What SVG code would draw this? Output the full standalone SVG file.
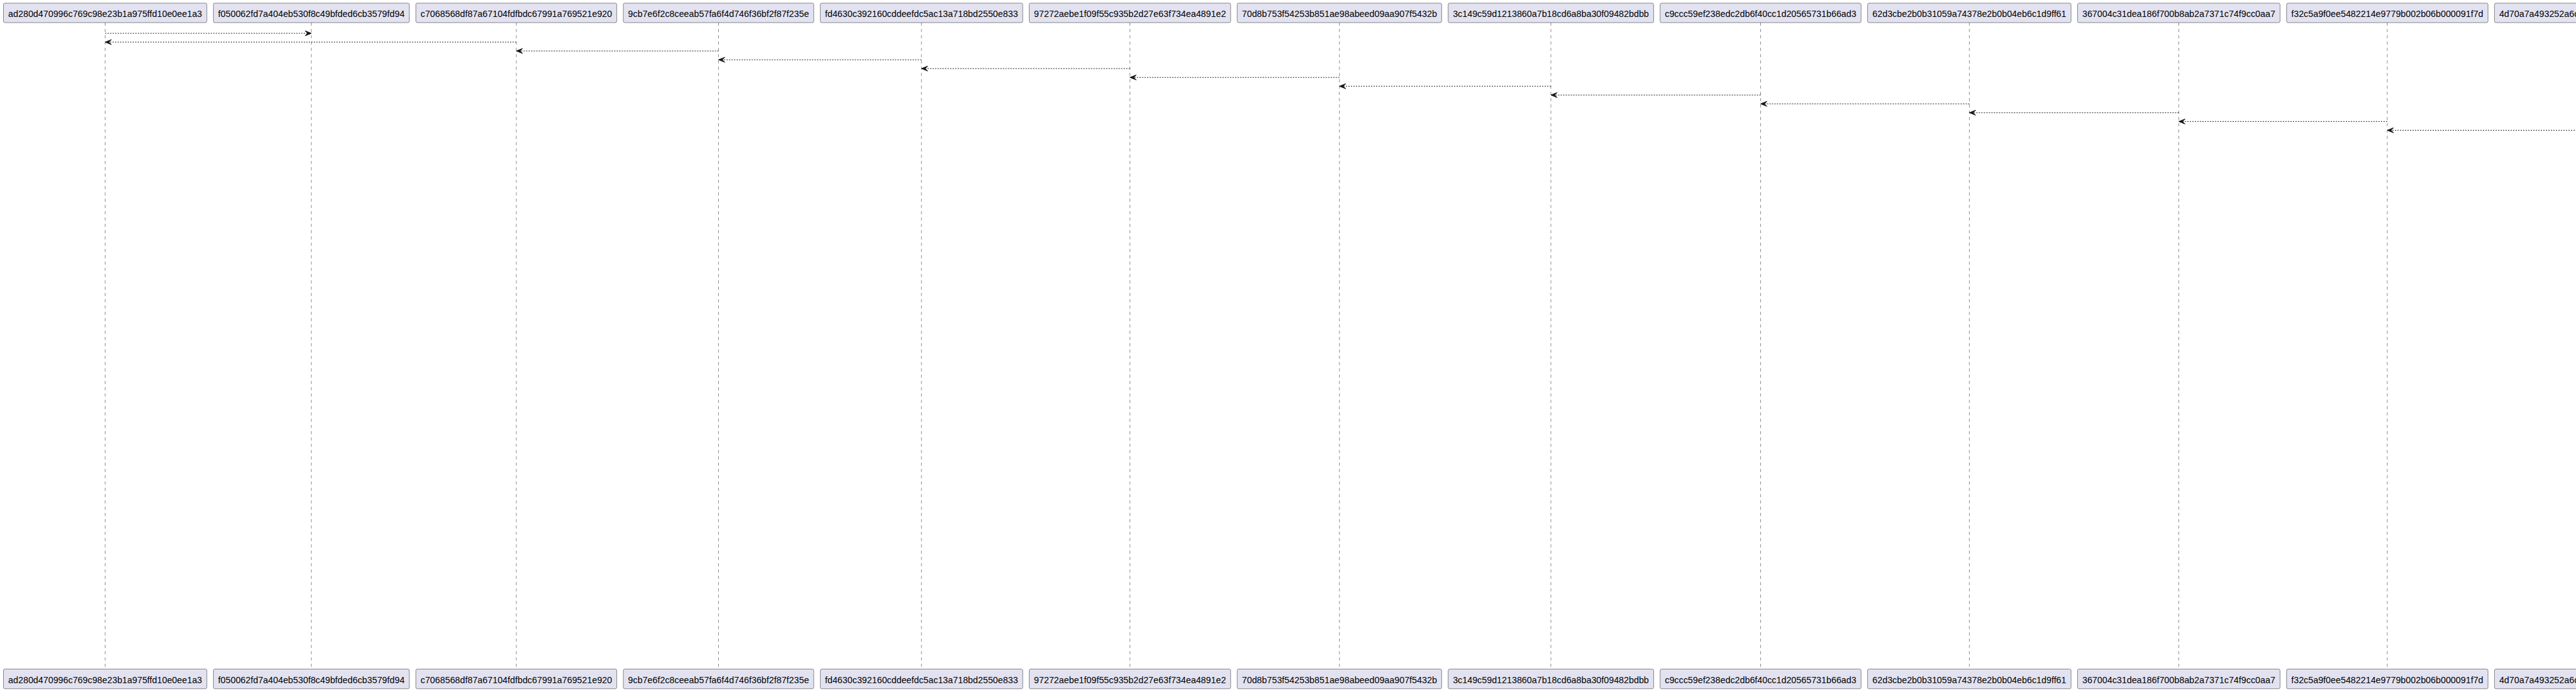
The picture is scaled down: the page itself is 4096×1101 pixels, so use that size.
<svg xmlns="http://www.w3.org/2000/svg" width="4096" height="1101" viewBox="0 0 4096 1101">
<style>
.box{fill:#E2E2F0;stroke:#181818;stroke-width:0.5}
.life{stroke:#181818;stroke-width:0.5;stroke-dasharray:5,5;fill:none}
.lbl{font-family:"Liberation Sans",Arial,sans-serif;font-size:14.3px;fill:#000000;text-anchor:middle}
.lbls{font-family:"Liberation Sans",Arial,sans-serif;font-size:14.3px;fill:#000000;text-anchor:start}
.msg{stroke:#181818;stroke-width:1;stroke-dasharray:2,2;fill:none}
</style>
<defs>
<marker id="ah" viewBox="0 0 10 8" refX="10" refY="4" markerWidth="10" markerHeight="8" markerUnits="userSpaceOnUse" orient="auto" overflow="visible">
<path d="M0,0 L10,4 L0,8 L4,4 Z" fill="#181818" stroke="#181818" stroke-width="1" stroke-dasharray="none"/>
</marker>
</defs>
<rect x="0" y="0" width="4096" height="1101" fill="#FFFFFF"/>

<g id="p0">
<line class="life" x1="167.2" y1="36" x2="167.2" y2="1064.5"/>
<rect class="box" x="5.5" y="5" width="323.4" height="31" rx="2.5"/>
<text class="lbl" x="167.2" y="27.2">ad280d470996c769c98e23b1a975ffd10e0ee1a3</text>
<rect class="box" x="5.5" y="1064.5" width="323.4" height="31.3" rx="2.5"/>
<text class="lbl" x="167.2" y="1086.5">ad280d470996c769c98e23b1a975ffd10e0ee1a3</text>
</g>
<g id="p1">
<line class="life" x1="495.1" y1="36" x2="495.1" y2="1064.5"/>
<rect class="box" x="339.3" y="5" width="311.6" height="31" rx="2.5"/>
<text class="lbl" x="495.1" y="27.2">f050062fd7a404eb530f8c49bfded6cb3579fd94</text>
<rect class="box" x="339.3" y="1064.5" width="311.6" height="31.3" rx="2.5"/>
<text class="lbl" x="495.1" y="1086.5">f050062fd7a404eb530f8c49bfded6cb3579fd94</text>
</g>
<g id="p2">
<line class="life" x1="821" y1="36" x2="821" y2="1064.5"/>
<rect class="box" x="661.2" y="5" width="319.5" height="31" rx="2.5"/>
<text class="lbl" x="821" y="27.2">c7068568df87a67104fdfbdc67991a769521e920</text>
<rect class="box" x="661.2" y="1064.5" width="319.5" height="31.3" rx="2.5"/>
<text class="lbl" x="821" y="1086.5">c7068568df87a67104fdfbdc67991a769521e920</text>
</g>
<g id="p3">
<line class="life" x1="1142.5" y1="36" x2="1142.5" y2="1064.5"/>
<rect class="box" x="991.1" y="5" width="302.8" height="31" rx="2.5"/>
<text class="lbl" x="1142.5" y="27.2">9cb7e6f2c8ceeab57fa6f4d746f36bf2f87f235e</text>
<rect class="box" x="991.1" y="1064.5" width="302.8" height="31.3" rx="2.5"/>
<text class="lbl" x="1142.5" y="1086.5">9cb7e6f2c8ceeab57fa6f4d746f36bf2f87f235e</text>
</g>
<g id="p4">
<line class="life" x1="1465.2" y1="36" x2="1465.2" y2="1064.5"/>
<rect class="box" x="1304.3" y="5" width="321.9" height="31" rx="2.5"/>
<text class="lbl" x="1465.2" y="27.2">fd4630c392160cddeefdc5ac13a718bd2550e833</text>
<rect class="box" x="1304.3" y="1064.5" width="321.9" height="31.3" rx="2.5"/>
<text class="lbl" x="1465.2" y="1086.5">fd4630c392160cddeefdc5ac13a718bd2550e833</text>
</g>
<g id="p5">
<line class="life" x1="1796.7" y1="36" x2="1796.7" y2="1064.5"/>
<rect class="box" x="1636.5" y="5" width="320.3" height="31" rx="2.5"/>
<text class="lbl" x="1796.7" y="27.2">97272aebe1f09f55c935b2d27e63f734ea4891e2</text>
<rect class="box" x="1636.5" y="1064.5" width="320.3" height="31.3" rx="2.5"/>
<text class="lbl" x="1796.7" y="1086.5">97272aebe1f09f55c935b2d27e63f734ea4891e2</text>
</g>
<g id="p6">
<line class="life" x1="2129.8" y1="36" x2="2129.8" y2="1064.5"/>
<rect class="box" x="1967.2" y="5" width="325.1" height="31" rx="2.5"/>
<text class="lbl" x="2129.8" y="27.2">70d8b753f54253b851ae98abeed09aa907f5432b</text>
<rect class="box" x="1967.2" y="1064.5" width="325.1" height="31.3" rx="2.5"/>
<text class="lbl" x="2129.8" y="1086.5">70d8b753f54253b851ae98abeed09aa907f5432b</text>
</g>
<g id="p7">
<line class="life" x1="2466" y1="36" x2="2466" y2="1064.5"/>
<rect class="box" x="2302.7" y="5" width="326.7" height="31" rx="2.5"/>
<text class="lbl" x="2466" y="27.2">3c149c59d1213860a7b18cd6a8ba30f09482bdbb</text>
<rect class="box" x="2302.7" y="1064.5" width="326.7" height="31.3" rx="2.5"/>
<text class="lbl" x="2466" y="1086.5">3c149c59d1213860a7b18cd6a8ba30f09482bdbb</text>
</g>
<g id="p8">
<line class="life" x1="2799.5" y1="36" x2="2799.5" y2="1064.5"/>
<rect class="box" x="2639.7" y="5" width="319.5" height="31" rx="2.5"/>
<text class="lbl" x="2799.5" y="27.2">c9ccc59ef238edc2db6f40cc1d20565731b66ad3</text>
<rect class="box" x="2639.7" y="1064.5" width="319.5" height="31.3" rx="2.5"/>
<text class="lbl" x="2799.5" y="1086.5">c9ccc59ef238edc2db6f40cc1d20565731b66ad3</text>
</g>
<g id="p9">
<line class="life" x1="3131.4" y1="36" x2="3131.4" y2="1064.5"/>
<rect class="box" x="2969.6" y="5" width="323.5" height="31" rx="2.5"/>
<text class="lbl" x="3131.4" y="27.2">62d3cbe2b0b31059a74378e2b0b04eb6c1d9ff61</text>
<rect class="box" x="2969.6" y="1064.5" width="323.5" height="31.3" rx="2.5"/>
<text class="lbl" x="3131.4" y="1086.5">62d3cbe2b0b31059a74378e2b0b04eb6c1d9ff61</text>
</g>
<g id="p10">
<line class="life" x1="3464.4" y1="36" x2="3464.4" y2="1064.5"/>
<rect class="box" x="3303.5" y="5" width="321.9" height="31" rx="2.5"/>
<text class="lbl" x="3464.4" y="27.2">367004c31dea186f700b8ab2a7371c74f9cc0aa7</text>
<rect class="box" x="3303.5" y="1064.5" width="321.9" height="31.3" rx="2.5"/>
<text class="lbl" x="3464.4" y="1086.5">367004c31dea186f700b8ab2a7371c74f9cc0aa7</text>
</g>
<g id="p11">
<line class="life" x1="3795.9" y1="36" x2="3795.9" y2="1064.5"/>
<rect class="box" x="3635.8" y="5" width="320.3" height="31" rx="2.5"/>
<text class="lbl" x="3795.9" y="27.2">f32c5a9f0ee5482214e9779b002b06b000091f7d</text>
<rect class="box" x="3635.8" y="1064.5" width="320.3" height="31.3" rx="2.5"/>
<text class="lbl" x="3795.9" y="1086.5">f32c5a9f0ee5482214e9779b002b06b000091f7d</text>
</g>
<g id="p12">
<rect class="box" x="3966.4" y="5" width="330" height="31" rx="2.5"/>
<text class="lbls" x="3973.9" y="27.2">4d70a7a493252a6c</text>
<rect class="box" x="3966.4" y="1064.5" width="330" height="31.3" rx="2.5"/>
<text class="lbls" x="3973.9" y="1086.5">4d70a7a493252a6c</text>
</g>

<g id="connectors">
<line class="msg" x1="167.2" y1="53" x2="495.1" y2="53" marker-end="url(#ah)"/>
<line class="msg" x1="821" y1="67" x2="167.2" y2="67" marker-end="url(#ah)"/>
<line class="msg" x1="1142.5" y1="81.1" x2="821" y2="81.1" marker-end="url(#ah)"/>
<line class="msg" x1="1465.2" y1="95.1" x2="1142.5" y2="95.1" marker-end="url(#ah)"/>
<line class="msg" x1="1796.7" y1="109.1" x2="1465.2" y2="109.1" marker-end="url(#ah)"/>
<line class="msg" x1="2129.8" y1="123.2" x2="1796.7" y2="123.2" marker-end="url(#ah)"/>
<line class="msg" x1="2466" y1="137.2" x2="2129.8" y2="137.2" marker-end="url(#ah)"/>
<line class="msg" x1="2799.5" y1="151.2" x2="2466" y2="151.2" marker-end="url(#ah)"/>
<line class="msg" x1="3131.4" y1="165.2" x2="2799.5" y2="165.2" marker-end="url(#ah)"/>
<line class="msg" x1="3464.4" y1="179.3" x2="3131.4" y2="179.3" marker-end="url(#ah)"/>
<line class="msg" x1="3795.9" y1="193.3" x2="3464.4" y2="193.3" marker-end="url(#ah)"/>
<line class="msg" x1="4126" y1="207.3" x2="3795.9" y2="207.3" marker-end="url(#ah)"/>
</g>
</svg>
